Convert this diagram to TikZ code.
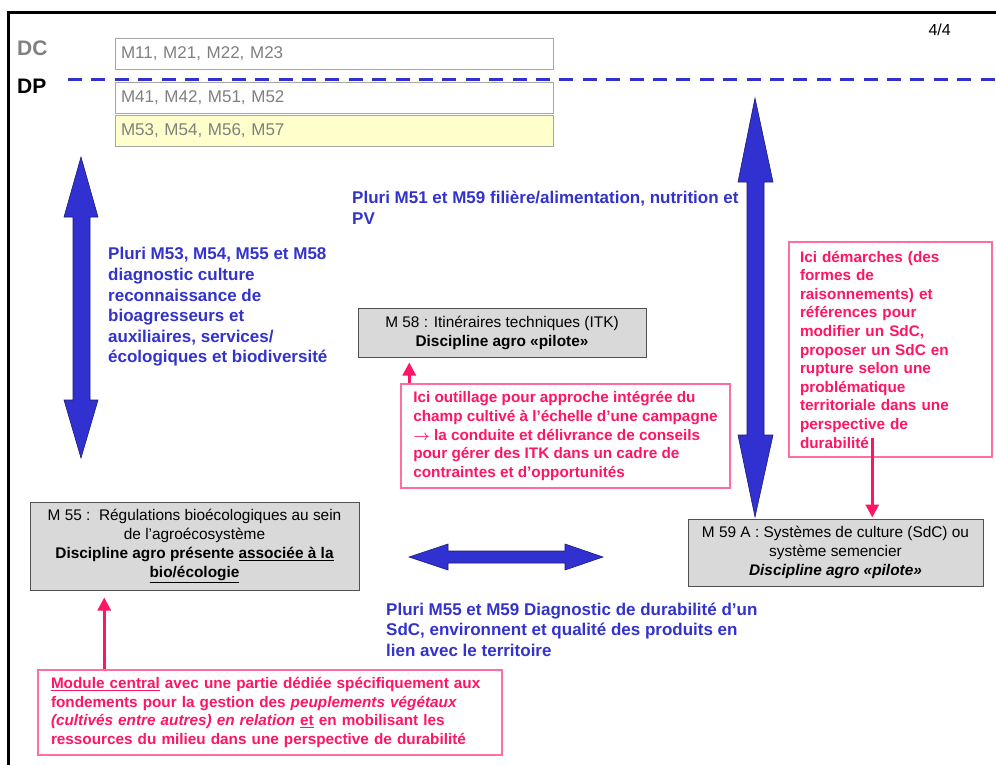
\documentclass[tikz,border=0pt]{standalone}
\usepackage{fontspec}
\setmainfont{Liberation Sans}
\usepackage{tikz}
\usetikzlibrary{arrows.meta,positioning,calc}
\definecolor{pluri}{HTML}{3333CC}
\definecolor{fatblue}{HTML}{3131D2}
\definecolor{fatedge}{HTML}{1C1C70}
\definecolor{rose}{HTML}{FF1466}
\definecolor{roseedge}{HTML}{FF6E9E}
\definecolor{paleyellow}{HTML}{FFFFCC}
\definecolor{boxgray}{HTML}{D9D9D9}
\definecolor{boxedge}{HTML}{505050}
\definecolor{rowgray}{HTML}{808080}
\definecolor{rowedge}{HTML}{A6A6A6}

\begin{document}
\begin{tikzpicture}[x=1pt,y=-1pt,
  every node/.style={inner sep=0pt},
  modrow/.style={draw=rowedge,line width=0.8pt,minimum width=438pt,
    minimum height=31pt,text width=426pt,inner xsep=6pt,align=left,
    text=rowgray,font=\fontsize{17}{19}\selectfont},
  modbox/.style={draw=boxedge,fill=boxgray,line width=1pt,align=center,
    font=\fontsize{15.4}{19}\selectfont},
  notebox/.style={draw=roseedge,line width=1.5pt,text=rose,align=left,
    font=\bfseries\fontsize{15.3}{18.6}\selectfont},
  pluritext/.style={text=pluri,align=left,
    font=\bfseries\fontsize{17}{20.6}\selectfont},
  fatarrow/.style={fill=fatblue,draw=fatedge,line width=0.6pt},
  pinkarr/.style={draw=rose,line width=3pt,-{Triangle[length=13pt,width=13pt]}}
]
\useasboundingbox (0,0) rectangle (996,765);
\fill[white] (0,0) rectangle (996,765);
% frame of the slide
\draw[line width=3pt] (8,765) -- (8,13) -- (996,13);

\node[anchor=west,text=rowgray,font=\bfseries\fontsize{21}{21}\selectfont] (dc) at (17,48) {DC};
\node[anchor=west,font=\bfseries\fontsize{21}{21}\selectfont] (dp) at (17,86) {DP};
\node[anchor=east,font=\fontsize{16}{16}\selectfont] (page) at (951,30) {4/4};

\node[modrow] (rowdc) at (334,54) {M11, M21, M22, M23};
\node[modrow] (rowdp) at (334,98) {M41, M42, M51, M52};
\node[modrow,fill=paleyellow] (rowdpb) at (334,131) {M53, M54, M56, M57};
\draw[fatblue,line width=3pt,dash pattern=on 14pt off 9.4pt] (68,80) -- (996,80);

% fat double arrows
\draw[fatarrow] (81,157) -- (64,217) -- (73,217) -- (73,400) -- (64,400) -- (81,458)
  -- (98,400) -- (90,400) -- (90,217) -- (98,217) -- cycle;
\draw[fatarrow] (755,98) -- (738,182) -- (747,182) -- (747,435) -- (738,435) -- (755,517)
  -- (773,435) -- (764,435) -- (764,182) -- (773,182) -- cycle;
\draw[fatarrow] (409,557) -- (448,544) -- (448,551) -- (565,551) -- (565,544) -- (603,557)
  -- (565,570) -- (565,563) -- (448,563) -- (448,570) -- cycle;

\node[pluritext,anchor=west] (pluribio) at (108,307)
  {Pluri M53, M54, M55 et M58\\diagnostic culture\\reconnaissance de\\bioagresseurs et\\
   auxiliaires, services/\\écologiques et biodiversité};
\node[pluritext,anchor=west] (plurifil) at (352,207.5)
  {Pluri M51 et M59 filière/alimentation, nutrition et\\PV};
\node[pluritext,anchor=west] (pluridur) at (386,629.5)
  {Pluri M55 et M59 Diagnostic de durabilité d’un\\SdC, environnent et qualité des produits en\\
   lien avec le territoire};

\node[modbox,minimum width=288pt,minimum height=49pt] (itk) at (502,332.5)
  {M 58 : Itinéraires techniques (ITK)\\\textbf{Discipline agro «pilote»}};
\node[modbox,minimum width=329pt,minimum height=88pt] (bioreg) at (194.5,546)
  {M 55 :\ \ Régulations bioécologiques au sein\\de l'agroécosystème\\
   \textbf{Discipline agro présente \underline{associée à la}}\\\textbf{\underline{bio/écologie}}};
\node[modbox,minimum width=295pt,minimum height=67pt] (sdc) at (835.5,552.5)
  {M 59 A : Systèmes de culture (SdC) ou\\système semencier\\
   \textbf{\textit{Discipline agro «pilote»}}};

\node[notebox,minimum width=329pt,minimum height=104pt] (noteitk) at (565.5,436)
  {Ici outillage pour approche intégrée du\\champ cultivé à l’échelle d’une campagne\\
   {\boldmath$\rightarrow$} la conduite et délivrance de conseils\\pour gérer des ITK dans un cadre de\\
   contraintes et d’opportunités};
\node[notebox,text width=181pt,inner xsep=11pt,minimum height=215pt] (notesdc) at (890.5,349.5)
  {Ici démarches (des\\formes de\\raisonnements) et\\références pour\\modifier un SdC,\\
   proposer un SdC en\\rupture selon une\\problématique\\territoriale dans une\\
   perspective de\\durabilité};
\node[notebox,text width=438pt,inner xsep=13pt,minimum height=85pt] (notecentral) at (270,712.5)
  {\underline{Module central} avec une partie dédiée spécifiquement aux\\
   fondements pour la gestion des \textit{peuplements végétaux}\\
   \textit{(cultivés entre autres) en relation} \underline{et} en mobilisant les\\
   ressources du milieu dans une perspective de durabilité};

% pink pointers
\coordinate (itkfoot) at ([xshift=9pt]noteitk.north west);
\draw[pinkarr,shorten >=5pt] (itkfoot) -- (itkfoot |- itk.south);
\coordinate (sdcfoot) at ([xshift=84pt,yshift=20pt]notesdc.south west);
\draw[pinkarr,shorten >=1pt] (sdcfoot) -- (sdcfoot |- sdc.north);
\coordinate (centralfoot) at ([xshift=67pt]notecentral.north west);
\draw[pinkarr,shorten >=7pt] (centralfoot) -- (centralfoot |- bioreg.south);
\end{tikzpicture}
\end{document}
